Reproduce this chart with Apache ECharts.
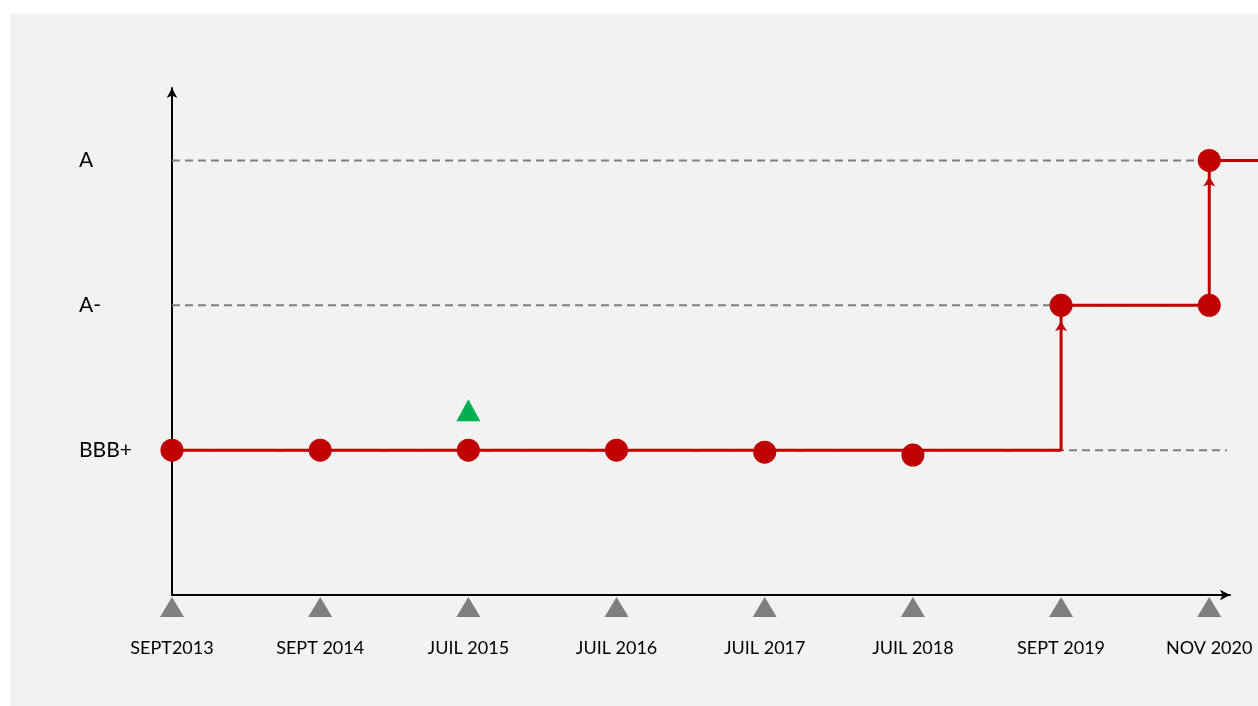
<!DOCTYPE html>
<html><head><meta charset="utf-8">
<script src="https://cdn.jsdelivr.net/npm/echarts@6/dist/echarts.min.js"></script>
<style>html,body{margin:0;padding:0;background:#fff}#c{width:1258px;height:706px}</style>
</head><body><div id="c"></div>
<script>
// ---- data ----
var categories = ['SEPT2013','SEPT 2014','JUIL 2015','JUIL 2016','JUIL 2017','JUIL 2018','SEPT 2019','NOV 2020'];
var ratingNames = {1:'BBB+', 2:'A-', 3:'A'};
var ratingLevels = [1, 2, 3];
// rating dot at each date (as drawn)
var dotValues = [1, 1, 1, 1, 0.986, 0.966, 2, 2];
// extra dot: upgrade at NOV 2020
var extraDots = [[7, 3]];
// rating path: [date index, rating] at each change (step)
var ratingPath = [[0, 1], [6, 2], [7, 3]];
// line continues past the last date
var ratingTail = [[7, 3], [7.4, 3]];
// upgrade arrows at [date index, new rating]
var upgrades = [[6, 2], [7, 3]];
// positive outlook marker
var outlook = [[2, 1]];
// dashed guide ends per level
var guideEnds = {1: 7.12, 2: 7, 3: 7};

var X_MAX = 7.14, Y_MAX = 3.5;
var W = 1258, GL = 172, GR = 28;
var chart = echarts.init(document.getElementById('c'), null, {renderer: 'canvas'});
var FONT = 'Lato, "Open Sans", sans-serif';
var RED = '#C00000';
var series = [];
ratingLevels.forEach(function (lv) {
  series.push({
    type: 'line', data: [[0, lv], [guideEnds[lv], lv]], symbol: 'none', silent: true, z: 1,
    lineStyle: {color: '#7F7F7F', width: 2, type: [8, 5]}
  });
});
series.push({
  type: 'line', step: 'end', data: ratingPath, symbol: 'none', clip: false, z: 3,
  lineStyle: {color: RED, width: 3}
});
// tail on a full-width overlay grid with a matching scale
series.push({
  type: 'line', data: ratingTail, symbol: 'none', clip: true, z: 3,
  xAxisIndex: 1, yAxisIndex: 1,
  lineStyle: {color: RED, width: 3}
});
series.push({
  type: 'scatter', data: upgrades, symbol: 'arrow', symbolSize: [9, 10], symbolOffset: [0, 16], z: 4,
  itemStyle: {color: RED, opacity: 1}
});
series.push({
  type: 'scatter', data: dotValues.map(function (v, i) { return [i, v]; }).concat(extraDots),
  symbol: 'circle', symbolSize: 23, z: 5, clip: false, itemStyle: {color: RED, opacity: 1}
});
series.push({
  type: 'scatter', data: categories.map(function (c, i) { return [i, 0]; }),
  symbol: 'triangle', symbolSize: [24, 20], symbolOffset: [0, 12], clip: false, z: 5,
  itemStyle: {color: '#7F7F7F', opacity: 1}
});
series.push({
  type: 'scatter', data: outlook, symbol: 'triangle', symbolSize: [24, 22], symbolOffset: [0, -40], z: 5,
  itemStyle: {color: '#00B050', opacity: 1}
});

var innerW = W - GL - GR;
var x2Max = X_MAX * (W - GL) / innerW;

chart.setOption({
  animation: false,
  backgroundColor: '#ffffff',
  graphic: [{type: 'rect', shape: {x: 10, y: 14, width: 1248, height: 692}, style: {fill: '#F2F2F2'}, z: -10, silent: true}],
  grid: [
    {left: GL, right: GR, top: 88, bottom: 111},
    {left: GL, right: 0, top: 88, bottom: 111}
  ],
  xAxis: [{
    type: 'value', min: 0, max: X_MAX, interval: 1,
    axisLine: {show: true, symbol: ['none', 'arrow'], symbolSize: [8, 10], lineStyle: {color: '#000', width: 2}},
    axisTick: {show: false}, splitLine: {show: false},
    axisLabel: {
      margin: 44, color: '#000', fontFamily: FONT, fontSize: 18, showMaxLabel: false,
      formatter: function (v) { return Number.isInteger(v) && categories[v] ? categories[v] : ''; }
    }
  }, {
    gridIndex: 1, type: 'value', min: 0, max: x2Max, show: false
  }],
  yAxis: [{
    type: 'value', min: 0, max: Y_MAX, interval: 1,
    axisLine: {show: true, symbol: ['none', 'arrow'], symbolSize: [8, 10], lineStyle: {color: '#000', width: 2}},
    axisTick: {show: false}, splitLine: {show: false},
    axisLabel: {
      margin: 93, align: 'left', color: '#000', fontFamily: FONT, fontSize: 21,
      formatter: function (v) { return ratingNames[v] || ''; }
    }
  }, {
    gridIndex: 1, type: 'value', min: 0, max: Y_MAX, show: false
  }],
  series: series
});
</script></body></html>
